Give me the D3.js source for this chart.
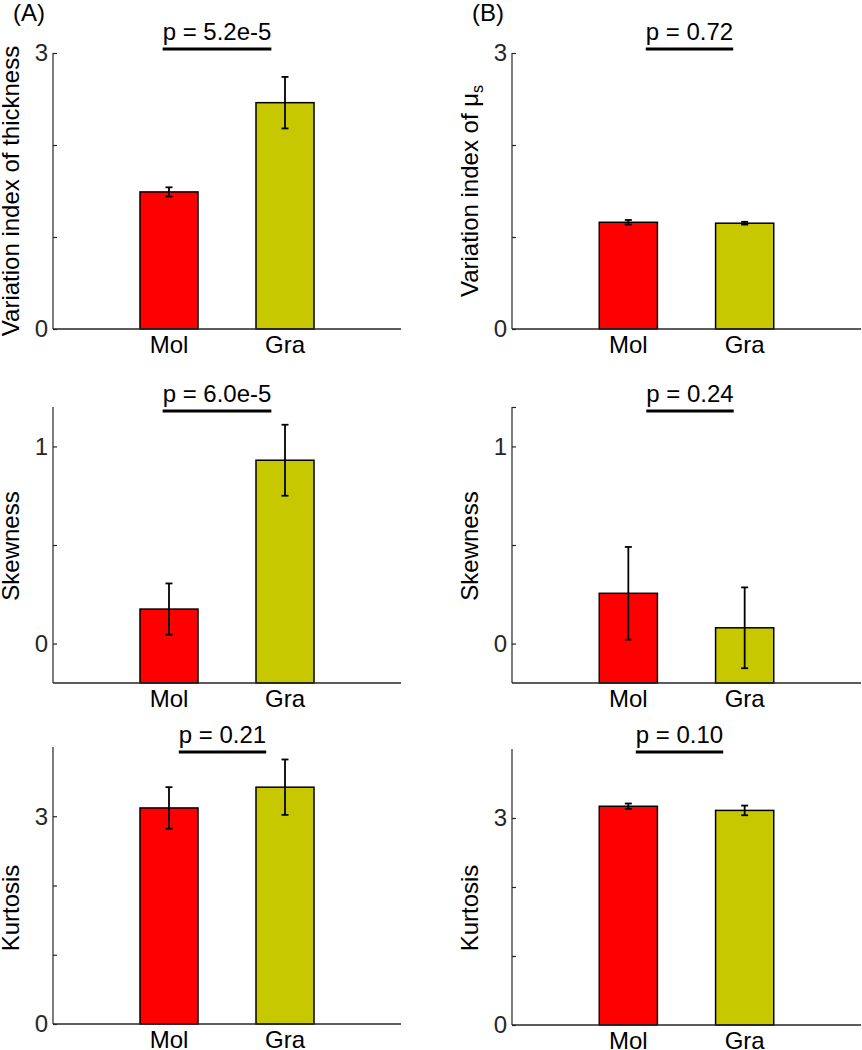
<!DOCTYPE html>
<html><head><meta charset="utf-8">
<script src="https://cdn.jsdelivr.net/npm/d3@7"></script>
<style>body{margin:0;background:#fff}svg{display:block}text{font-family:Arial,"Liberation Sans",sans-serif}</style>
</head><body>
<script>
const groups = ["Mol", "Gra"];
const colors = ["#ff0000", "#c8c800"];
const thickMean = [1.49, 2.46], thickErr = [0.05, 0.28];
const musMean = [1.16, 1.15], musErr = [0.025, 0.015];
const skewAMean = [0.175, 0.93], skewAErr = [0.13, 0.18];
const skewBMean = [0.255, 0.08], skewBErr = [0.235, 0.205];
const kurtAMean = [3.12, 3.42], kurtAErr = [0.30, 0.40];
const kurtBMean = [3.17, 3.11], kurtBErr = [0.04, 0.07];
const pLabels = ["p = 5.2e-5", "p = 0.72", "p = 6.0e-5", "p = 0.24", "p = 0.21", "p = 0.10"];
const yLabels = ["Variation index of thickness", "Variation index of μ|s", "Skewness", "Skewness", "Kurtosis", "Kurtosis"];
const yDomains = [[0, 3], [0, 3], [-0.2, 1.2], [-0.2, 1.2], [0, 4], [0, 4]];
const tickVals = [[0, 1, 2, 3], [0, 1, 2, 3], [0, 0.5, 1], [0, 0.5, 1, 1.2], [0, 1, 2, 3], [0, 1, 2, 3]];
const tickLabelVals = [[0, 3], [0, 3], [0, 1], [0, 1], [0, 3], [0, 3]];
const means = [thickMean, musMean, skewAMean, skewBMean, kurtAMean, kurtBMean];
const errs = [thickErr, musErr, skewAErr, skewBErr, kurtAErr, kurtBErr];

// layout (pixel geometry)
const layout = [
  {x0: 53, x1: 401, y0: 53, y1: 329, labX: 19, labY: 191, pX: 217, pLineY: 49},
  {x0: 512, x1: 861, y0: 53, y1: 329, labX: 478, labY: 191, pX: 689.5, pLineY: 49},
  {x0: 53, x1: 401, y0: 407, y1: 683, labX: 19, labY: 546, pX: 217, pLineY: 411},
  {x0: 512, x1: 861, y0: 407, y1: 683, labX: 478, labY: 546, pX: 690, pLineY: 411},
  {x0: 53, x1: 401, y0: 747, y1: 1024, labX: 19, labY: 908, pX: 222.5, pLineY: 752},
  {x0: 512, x1: 861, y0: 749, y1: 1025, labX: 478, labY: 908, pX: 679.5, pLineY: 752}
];

const svg = d3.select("body").append("svg").attr("width", 862).attr("height", 1050);
const axisCol = "#262626";
const FS = 24;

svg.append("text").attr("x", 13).attr("y", 21).attr("font-size", FS).attr("fill", "#000").text("(A)");
svg.append("text").attr("x", 472).attr("y", 21).attr("font-size", FS).attr("fill", "#000").text("(B)");

layout.forEach((L, i) => {
  const x = d3.scaleLinear().domain([0, 3]).range([L.x0, L.x1]);
  const y = d3.scaleLinear().domain(yDomains[i]).range([L.y1, L.y0]);
  const g = svg.append("g");
  const base = yDomains[i][0];
  const bw = x(0.5) - x(0);

  // bars
  groups.forEach((name, j) => {
    const cx = x(j + 1);
    g.append("rect").attr("x", cx - bw / 2).attr("width", bw)
      .attr("y", y(means[i][j])).attr("height", y(base) - y(means[i][j]))
      .attr("fill", colors[j]).attr("stroke", "#000").attr("stroke-width", 1.5);
    const hi = y(means[i][j] + errs[i][j]), lo = y(means[i][j] - errs[i][j]);
    g.append("line").attr("x1", cx).attr("x2", cx).attr("y1", hi).attr("y2", lo)
      .attr("stroke", "#000").attr("stroke-width", 1.8);
    [hi, lo].forEach(v => g.append("line").attr("x1", cx - 3.5).attr("x2", cx + 3.5)
      .attr("y1", v).attr("y2", v).attr("stroke", "#000").attr("stroke-width", 1.8));
    g.append("text").attr("x", cx).attr("y", L.y1 + 24).attr("text-anchor", "middle")
      .attr("font-size", FS).attr("fill", "#000").text(name);
  });

  // y axis
  const ax = d3.axisRight(y).tickValues(tickVals[i]).tickSize(4).tickFormat("");
  const ag = g.append("g").attr("transform", `translate(${L.x0},0)`).call(ax);
  ag.select(".domain").attr("stroke", axisCol).attr("stroke-width", 1.2).attr("d", `M0,${L.y0}V${L.y1}`);
  ag.selectAll(".tick line").attr("stroke", axisCol).attr("stroke-width", 1.2);
  tickLabelVals[i].forEach(v => {
    g.append("text").attr("x", L.x0 - 5).attr("y", y(v)).attr("dy", "0.35em")
      .attr("text-anchor", "end").attr("font-size", FS).attr("fill", axisCol).text(v);
  });
  // x axis line
  g.append("line").attr("x1", L.x0).attr("x2", L.x1).attr("y1", L.y1).attr("y2", L.y1)
    .attr("stroke", axisCol).attr("stroke-width", 1.5);

  // y label
  const parts = yLabels[i].split("|");
  const yl = g.append("text").attr("transform", `translate(${L.labX},${L.labY}) rotate(-90)`)
    .attr("text-anchor", "middle").attr("font-size", FS).attr("fill", "#000");
  yl.append("tspan").text(parts[0]);
  if (parts[1]) yl.append("tspan").attr("font-size", 16).attr("dy", 5).text(parts[1]);

  // p value with bar
  const pt = g.append("text").attr("x", L.pX).attr("y", L.pLineY - 9).attr("text-anchor", "middle")
    .attr("font-size", FS).attr("fill", "#000").text(pLabels[i]);
  const w = pt.node().getComputedTextLength();
  g.append("line").attr("x1", L.pX - w / 2).attr("x2", L.pX + w / 2)
    .attr("y1", L.pLineY).attr("y2", L.pLineY).attr("stroke", "#000").attr("stroke-width", 3);
});
</script>
</body></html>
